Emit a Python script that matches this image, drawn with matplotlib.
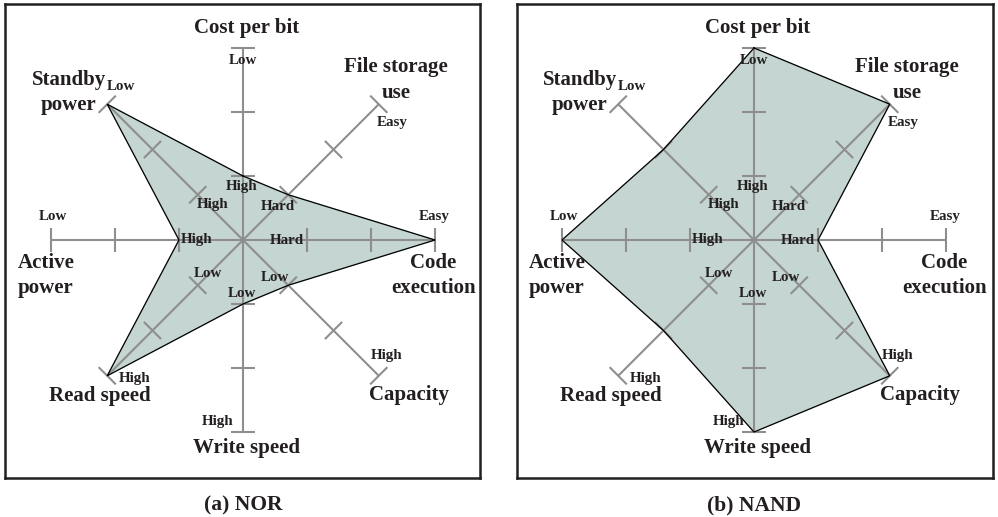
import numpy as np
import matplotlib
matplotlib.use('Agg')
import matplotlib.pyplot as plt

# radar axes, clockwise from the top
names = ['Cost per bit', 'File storage\nuse', 'Code\nexecution', 'Capacity',
         'Write speed', 'Read speed', 'Active\npower', 'Standby\npower']
angles = [90, 45, 0, -45, -90, -135, 180, 135]
inner_lab = ['High', 'Hard', 'Hard', 'Low', 'Low', 'Low', 'High', 'High']
outer_lab = ['Low', 'Easy', 'Easy', 'High', 'High', 'High', 'Low', 'Low']

# scores on a 1..3 scale (3 = outer end)
nor_vals = [1, 1, 3, 1, 1, 3, 1, 3]
nand_vals = [3, 3, 1, 3, 3, 2, 3, 2]

captions = ['(a) NOR', '(b) NAND']

# text offsets from the centre (radar units)
name_pos = [(0.05, 3.31), (2.39, 2.50), (2.97, -0.55), (2.60, -2.42),
            (0.05, -3.25), (-2.23, -2.44), (-3.08, -0.56), (-2.72, 2.31)]
inner_pos = [(-0.02, 0.84), (0.55, 0.52), (0.69, 0.0), (0.50, -0.58),
             (-0.02, -0.83), (-0.55, -0.53), (-0.72, 0.0), (-0.47, 0.56)]
outer_pos = [(0.0, 2.81), (2.33, 1.84), (2.98, 0.36), (2.25, -1.81),
             (-0.39, -2.84), (-1.70, -2.17), (-2.97, 0.36), (-1.90, 2.40)]

TXT = '#231f20'
GREY = '#8e8e8e'
FILL = '#c5d5d1'
FONT = 'Liberation Serif'

W, H = 998, 517
fig = plt.figure(figsize=(W/100, H/100), dpi=100)
fig.patch.set_facecolor('white')

px = 64.0  # pixels per unit
boxes = [(5, 480, 243), (517, 993, 754)]   # left, right, centre x (pixels)
top, bot, cy = 4, 478, 240

for k, vals in enumerate([nor_vals, nand_vals]):
    l, r, cx = boxes[k]
    ax = fig.add_axes([l/W, (H-bot)/H, (r-l)/W, (bot-top)/H])
    ax.set_xlim(-(cx-l)/px, (r-cx)/px)
    ax.set_ylim(-(bot-cy)/px, (cy-top)/px)
    ax.set_xticks([])
    ax.set_yticks([])
    for s in ax.spines.values():
        s.set_color(TXT)
        s.set_linewidth(1.8)

    th = np.radians(angles)
    v = np.array(vals, dtype=float)
    xs = v*np.cos(th)
    ys = v*np.sin(th)
    ax.fill(xs, ys, color=FILL, zorder=1)

    # spokes and ticks
    for a in th:
        ax.plot([0, 3*np.cos(a)], [0, 3*np.sin(a)], color=GREY, lw=1.5, zorder=2,
                solid_capstyle='butt')
        for t in [1, 2, 3]:
            c = np.array([t*np.cos(a), t*np.sin(a)])
            p = np.array([-np.sin(a), np.cos(a)])*0.19
            ax.plot([c[0]-p[0], c[0]+p[0]], [c[1]-p[1], c[1]+p[1]],
                    color=GREY, lw=1.5, zorder=2, solid_capstyle='butt')

    ax.plot(np.append(xs, xs[0]), np.append(ys, ys[0]), color='black', lw=0.9, zorder=3)

    for i in range(len(names)):
        ax.text(name_pos[i][0], name_pos[i][1], names[i], ha='center', va='center',
                fontsize=15, fontweight='bold', family=FONT, color=TXT,
                linespacing=1.35, zorder=4)
        ax.text(inner_pos[i][0], inner_pos[i][1], inner_lab[i], ha='center', va='center',
                fontsize=10.8, fontweight='bold', family=FONT, color=TXT, zorder=4)
        ax.text(outer_pos[i][0], outer_pos[i][1], outer_lab[i], ha='center', va='center',
                fontsize=10.8, fontweight='bold', family=FONT, color=TXT, zorder=4)

    fig.text(cx/W, 1-505/H, captions[k], ha='center', va='center', fontsize=15.5,
             fontweight='bold', family=FONT, color=TXT)

fig.savefig('out.png', dpi=100)
